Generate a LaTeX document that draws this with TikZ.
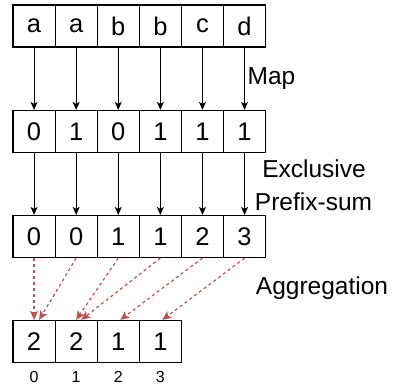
\documentclass[tikz,border=0pt]{standalone}
\usepackage{fontspec}
\setmainfont{Liberation Sans}
\usetikzlibrary{arrows.meta}
\definecolor{aggred}{HTML}{B85450}
\tikzset{
  cell/.style={draw=black, line width=1.2pt, minimum width=42.1pt, minimum height=42pt,
    inner sep=0pt, font=\fontsize{25.5}{30}\selectfont},
  idx/.style={font=\fontsize{16}{19}\selectfont, inner sep=0pt},
  steplabel/.style={font=\fontsize{24.5}{29}\selectfont, inner sep=0pt, align=center},
  maparrow/.style={draw=black, line width=1pt, -{Stealth[length=8pt,width=7pt,inset=2pt]}},
  aggarrow/.style={draw=aggred, line width=1.2pt, dash pattern=on 3pt off 3pt,
    -{Stealth[length=9pt,width=8pt,inset=2pt]}}
}
\begin{document}
\begin{tikzpicture}[x=1pt,y=1pt]
\useasboundingbox (0,0) rectangle (398,-388);

% input keys
\foreach \t [count=\i from 0] in {a,a,b,b,c,d}
  \node[cell] (k\i) at ({34.05+42.1*\i},-26) {\t};
% mapped flags
\foreach \t [count=\i from 0] in {0,1,0,1,1,1}
  \node[cell] (f\i) at ({34.05+42.1*\i},-131.5) {\t};
% exclusive prefix sums
\foreach \t [count=\i from 0] in {0,0,1,1,2,3}
  \node[cell] (p\i) at ({34.05+42.1*\i},-236.5) {\t};
% aggregated counts with their indices
\foreach \t [count=\i from 0] in {2,2,1,1} {
  \node[cell] (g\i) at ({34.05+42.1*\i},-341.5) {\t};
  \node[idx] (n\i) at ({34.05+42.1*\i},-377) {\i};
}

% map and prefix-sum steps
\foreach \i in {0,...,5} {
  \draw[maparrow] (k\i.south) -- (f\i.north);
  \draw[maparrow] (f\i.south) -- (p\i.north);
}

% aggregation step
\draw[aggarrow] (p0.south) -- ([xshift=0pt]g0.north);
\draw[aggarrow] (p1.south) -- ([xshift=5pt]g0.north);
\draw[aggarrow] (p2.south) -- ([xshift=0pt]g1.north);
\draw[aggarrow] (p3.south) -- ([xshift=5pt]g1.north);
\draw[aggarrow] (p4.south) -- ([xshift=2pt]g2.north);
\draw[aggarrow] (p5.south) -- ([xshift=2pt]g3.north);

% step labels
\node[steplabel, anchor=west] (lmap) at (247.5,-79) {Map};
\node[steplabel] (lex) at (314,-169) {Exclusive};
\node[steplabel] (lps) at (313.5,-201.5) {Prefix-sum};
\node[steplabel] (lagg) at (322,-288) {Aggregation};
\end{tikzpicture}
\end{document}
